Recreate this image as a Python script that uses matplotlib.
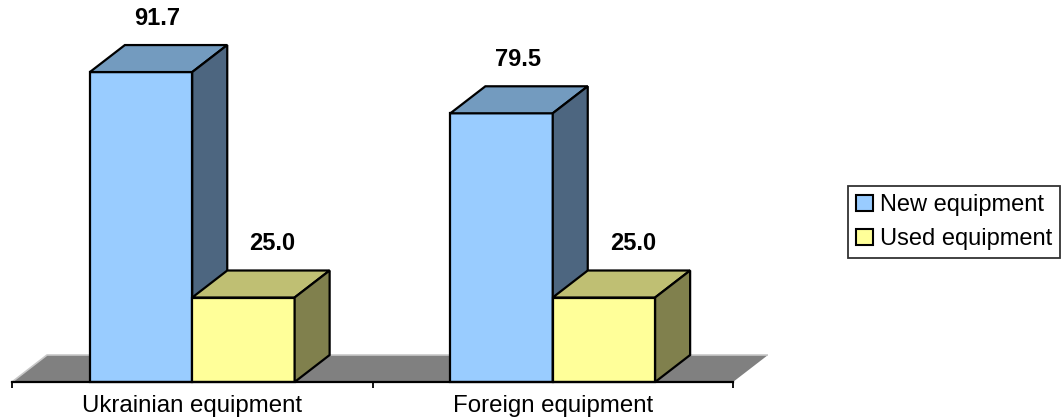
import matplotlib
matplotlib.use("Agg")
import matplotlib.pyplot as plt
from matplotlib.patches import Polygon, Patch

plt.rcParams['font.family'] = ['Liberation Sans', 'DejaVu Sans']

categories = ["Ukrainian equipment", "Foreign equipment"]
series_names = ["New equipment", "Used equipment"]
new_values = [91.7, 79.5]
used_values = [25.0, 25.0]

front_colors = ["#99CCFF", "#FFFF99"]
top_colors = ["#739BBF", "#BFBF73"]
side_colors = ["#4D6680", "#80804D"]

W, H = 1062, 419
fig = plt.figure(figsize=(W / 100, H / 100), dpi=100)
# axes in pixel terms: x 12..733, y from 382 (baseline) up to the top edge
ax = fig.add_axes([12 / W, 37 / H, 721 / W, 382 / H])
px_per_unit = 3.38
ax.set_xlim(0, 2)
ax.set_ylim(0, 382 / px_per_unit)

# 3-D offset of the depth axis
dx = 35 / 360.5
dy = 27 / px_per_unit
bar_w = 0.284

# floor
floor = Polygon([(0, 0), (2, 0), (2 + dx, dy), (dx, dy)], closed=True,
                facecolor="#808080", edgecolor="none", clip_on=False, zorder=1)
ax.add_patch(floor)
ax.plot([0, dx, 2 + dx], [0, dy, dy], color="#C8C8C8", lw=1.2,
        clip_on=False, zorder=1.5, solid_capstyle="butt")


def box(x0, h, k):
    x1 = x0 + bar_w
    kw = dict(closed=True, edgecolor="black", lw=1.6, clip_on=False,
              joinstyle="miter", zorder=2)
    ax.add_patch(Polygon([(x0, 0), (x1, 0), (x1, h), (x0, h)],
                         facecolor=front_colors[k], **kw))
    ax.add_patch(Polygon([(x0, h), (x1, h), (x1 + dx, h + dy), (x0 + dx, h + dy)],
                         facecolor=top_colors[k], **kw))
    ax.add_patch(Polygon([(x1, 0), (x1 + dx, dy), (x1 + dx, h + dy), (x1, h)],
                         facecolor=side_colors[k], **kw))


label_shift = [0.045, 0.08]
for i in range(len(categories)):
    for k, vals in enumerate([new_values, used_values]):
        x0 = i + 0.5 - bar_w if k == 0 else i + 0.5
        box(x0, vals[i], k)
        ax.annotate(f"{vals[i]:.1f}", (x0 + bar_w / 2 + label_shift[k], vals[i] + dy),
                    xytext=(0, 11), textcoords="offset points",
                    ha="center", va="bottom", fontsize=17, fontweight="bold",
                    annotation_clip=False)

for s in ["top", "right", "left"]:
    ax.spines[s].set_visible(False)
ax.spines["bottom"].set_linewidth(1.6)
ax.spines["bottom"].set_zorder(3)
ax.set_yticks([])
ax.set_xticks([0, 1, 2])
ax.set_xticklabels([])
ax.tick_params(axis="x", which="major", direction="out", length=4.5, width=1.3)
ax.set_xticks([0.5, 1.5], minor=True)
ax.set_xticklabels(categories, minor=True, fontsize=17.3)
ax.tick_params(axis="x", which="minor", length=0, pad=9.5)
ax.patch.set_visible(False)

handles = [Patch(facecolor=c, edgecolor="black", lw=1.5) for c in front_colors]
leg = fig.legend(handles, series_names, loc="upper left",
                 bbox_to_anchor=(848 / W, 1 - 186 / H), fontsize=17,
                 frameon=True, fancybox=False, handlelength=0.7, handleheight=0.7,
                 handletextpad=0.3, borderpad=0.35, labelspacing=0.5, borderaxespad=0)
leg.get_frame().set_edgecolor("black")
leg.get_frame().set_linewidth(1.3)

fig.savefig("out.png", dpi=100)
